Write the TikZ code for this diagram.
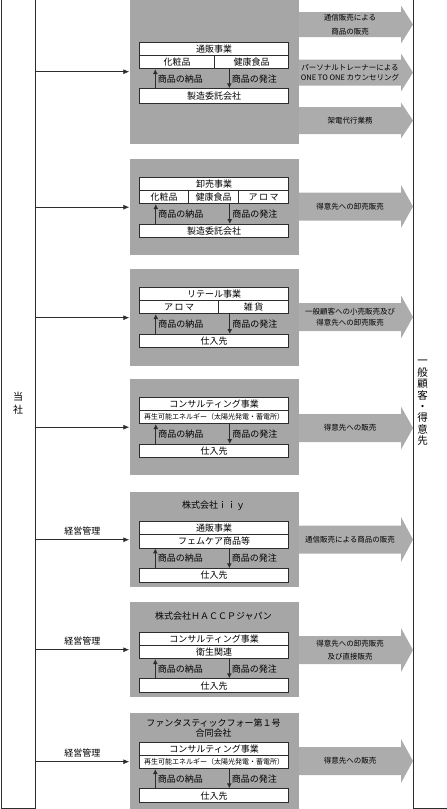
\documentclass[tikz,border=0pt]{standalone}
\usepackage{fontspec}
\setmainfont{Noto Sans CJK JP}
\usetikzlibrary{arrows.meta}
\definecolor{pg}{RGB}{166,166,166}
\definecolor{ag}{RGB}{172,172,172}
\definecolor{ln}{RGB}{45,45,45}
\newcommand\blockarr[6]{%
  \fill[ag] (299,#2-#3) -- (401,#2-#3) -- (401,#2-#4) -- (413,#2) -- (401,#2+#4) -- (401,#2+#3) -- (299,#2+#3) -- cycle;
  \node[atext, font=\fontsize{7.5}{#6}\selectfont] (#1) at (350,#2) {#5};}
\begin{document}
\begin{tikzpicture}[x=1pt,y=-1pt,
  panel/.style={fill=pg, minimum width=169.7pt, inner sep=0pt, anchor=north west},
  cell/.style={draw=ln, fill=white, line width=0.8pt, minimum height=13.3pt, inner sep=0pt, anchor=north west, font=\fontsize{9}{10}\selectfont},
  ia/.style={draw=ln, line width=1pt, -{Latex[length=5pt,width=5pt]}},
  la/.style={draw=ln, line width=0.8pt, -{Latex[length=6pt,width=5pt]}},
  lbl/.style={font=\fontsize{9}{10}\selectfont, inner sep=0pt},
  atext/.style={align=center, inner sep=0pt, text=black},
  ttl/.style={font=\fontsize{9}{10.6}\selectfont, align=center, inner sep=0pt},
  outer/.style={draw=ln, line width=0.8pt, anchor=north west, minimum height=811.3pt, inner sep=0pt}
]
\useasboundingbox (0,0) rectangle (447,809);

% outer boxes
\node[outer, minimum width=34.2pt, align=center, font=\fontsize{10}{12.5}\selectfont] (L) at (0.5,-3) {当\\社};
\node[outer, minimum width=40pt] (R) at (412.7,-3) {};
\node[font=\fontsize{10.5}{11.4}\selectfont, align=center, inner sep=0pt] (Rt) at (422.7,403) {一\\般\\顧\\客\\・\\得\\意\\先};

% panels
\node[panel, minimum height=145pt] (p1) at (129.3,-1) {};
\node[panel, minimum height=96pt] (p2) at (129.3,159) {};
\node[panel, minimum height=97pt] (p3) at (129.3,269) {};
\node[panel, minimum height=96pt] (p4) at (129.3,379) {};
\node[panel, minimum height=95pt] (p5) at (129.3,492) {};
\node[panel, minimum height=95pt] (p6) at (129.3,602) {};
\node[panel, minimum height=97pt] (p7) at (129.3,713) {};

% left connectors
\draw[la] (L.east |- p1.west) -- (p1.west);
\draw[la] (L.east |- p2.west) -- (p2.west);
\draw[la] (L.east |- p3.west) -- (p3.west);
\draw[la] (L.east |- p4.west) -- (p4.west);
\draw[la] (L.east |- p5.west) -- node[lbl, above=4pt] (m5) {経営管理} (p5.west);
\draw[la] (L.east |- p6.west) -- node[lbl, above=4pt] (m6) {経営管理} (p6.west);
\draw[la] (L.east |- p7.west) -- node[lbl, above=4pt] (m7) {経営管理} (p7.west);

% block arrows
\blockarr{a1a}{24.5}{12.5}{19}{通信販売による\\商品の販売}{13.4}
\blockarr{a1b}{72.5}{13}{19}{パーソナルトレーナーによる\\ONE TO ONE カウンセリング}{10}
\blockarr{a1c}{120.5}{13.5}{18}{架電代行業務}{10}
\blockarr{a2}{206.5}{14}{21.5}{得意先への卸売販売}{10}
\blockarr{a3}{317}{14}{21.5}{一般顧客への小売販売及び\\得意先への卸売販売}{11.6}
\blockarr{a4}{428}{14}{21.5}{得意先への販売}{10}
\blockarr{a5}{539.5}{14}{22.5}{通信販売による商品の販売}{10}
\blockarr{a6}{650}{14}{22}{得意先への卸売販売\\及び直接販売}{12.4}
\blockarr{a7}{761}{14}{22}{得意先への販売}{10}

% panel 1
\node[cell, minimum width=149pt] (h1) at (139.3,41.7) {通販事業};
\node[cell, minimum width=74.7pt] (c1a) at (139.3,55) {化粧品};
\node[cell, minimum width=74.3pt] (c1b) at (214,55) {健康食品};
\node[cell, minimum width=149pt, minimum height=14.4pt] (b1) at (139.3,88.3) {製造委託会社};
\draw[ia] ([xshift=16pt]b1.north west) -- node[lbl, right=2pt] (n1) {商品の納品} ([xshift=16pt]c1a.south west);
\draw[ia] ([xshift=90pt]c1a.south west) -- node[lbl, right=2pt] (o1) {商品の発注} ([xshift=90pt]b1.north west);

% panel 2
\node[cell, minimum width=149pt] (h2) at (139.3,177.3) {卸売事業};
\node[cell, minimum width=49pt] (c2a) at (139.3,190) {化粧品};
\node[cell, minimum width=50pt] (c2b) at (188.3,190) {健康食品};
\node[cell, minimum width=50pt] (c2c) at (238.3,190) {ア\,ロ\,マ};
\node[cell, minimum width=149pt] (b2) at (139.3,224) {製造委託会社};
\draw[ia] ([xshift=16.5pt]b2.north west) -- node[lbl, right=2pt] (n2) {商品の納品} ([xshift=16.5pt]c2a.south west);
\draw[ia] ([xshift=90.5pt]c2a.south west) -- node[lbl, right=2pt] (o2) {商品の発注} ([xshift=90.5pt]b2.north west);

% panel 3
\node[cell, minimum width=149pt] (h3) at (139.3,287.3) {リテール事業};
\node[cell, minimum width=79pt] (c3a) at (139.3,300) {ア\,ロ\,マ};
\node[cell, minimum width=70pt] (c3b) at (218.3,300) {雑\,貨};
\node[cell, minimum width=149pt] (b3) at (139.3,334) {仕入先};
\draw[ia] ([xshift=16.5pt]b3.north west) -- node[lbl, right=2pt] (n3) {商品の納品} ([xshift=16.5pt]c3a.south west);
\draw[ia] ([xshift=90.5pt]c3a.south west) -- node[lbl, right=2pt] (o3) {商品の発注} ([xshift=90.5pt]b3.north west);

% panel 4
\node[cell, minimum width=149pt] (h4) at (139.3,397.3) {コンサルティング事業};
\node[cell, minimum width=149pt, font=\fontsize{7}{8}\selectfont] (c4a) at (139.3,410) {再生可能エネルギー（太陽光発電・蓄電所）};
\node[cell, minimum width=149pt] (b4) at (139.3,444) {仕入先};
\draw[ia] ([xshift=16.5pt]b4.north west) -- node[lbl, right=2pt] (n4) {商品の納品} ([xshift=16.5pt]c4a.south west);
\draw[ia] ([xshift=90.5pt]c4a.south west) -- node[lbl, right=2pt] (o4) {商品の発注} ([xshift=90.5pt]b4.north west);

% panel 5
\node[ttl] (t5) at (213.5,505.7) {株式会社ｉｉｙ};
\node[cell, minimum width=149pt, minimum height=13.6pt] (h5) at (139.3,520.7) {通販事業};
\node[cell, minimum width=149pt] (c5a) at (139.3,534.3) {フェムケア商品等};
\node[cell, minimum width=149pt, minimum height=13.4pt] (b5) at (139.3,568.3) {仕入先};
\draw[ia] ([xshift=16pt]b5.north west) -- node[lbl, right=2pt] (n5) {商品の納品} ([xshift=16pt]c5a.south west);
\draw[ia] ([xshift=90pt]c5a.south west) -- node[lbl, right=2pt] (o5) {商品の発注} ([xshift=90pt]b5.north west);

% panel 6
\node[ttl] (t6) at (213.5,615.7) {株式会社ＨＡＣＣＰジャパン};
\node[cell, minimum width=149pt] (h6) at (139.3,631.7) {コンサルティング事業};
\node[cell, minimum width=149pt] (c6a) at (139.3,645) {衛生関連};
\node[cell, minimum width=149pt, minimum height=14pt] (b6) at (139.3,678.3) {仕入先};
\draw[ia] ([xshift=16pt]b6.north west) -- node[lbl, right=2pt] (n6) {商品の納品} ([xshift=16pt]c6a.south west);
\draw[ia] ([xshift=90pt]c6a.south west) -- node[lbl, right=2pt] (o6) {商品の発注} ([xshift=90pt]b6.north west);

% panel 7
\node[ttl] (t7) at (213.5,728) {ファンタスティックフォー第１号\\合同会社};
\node[cell, minimum width=149pt] (h7) at (139.3,741.7) {コンサルティング事業};
\node[cell, minimum width=149pt, font=\fontsize{7}{8}\selectfont] (c7a) at (139.3,755) {再生可能エネルギー（太陽光発電・蓄電所）};
\node[cell, minimum width=149pt, minimum height=14pt] (b7) at (139.3,788.3) {仕入先};
\draw[ia] ([xshift=16pt]b7.north west) -- node[lbl, right=2pt] (n7) {商品の納品} ([xshift=16pt]c7a.south west);
\draw[ia] ([xshift=90pt]c7a.south west) -- node[lbl, right=2pt] (o7) {商品の発注} ([xshift=90pt]b7.north west);
\end{tikzpicture}
\end{document}
